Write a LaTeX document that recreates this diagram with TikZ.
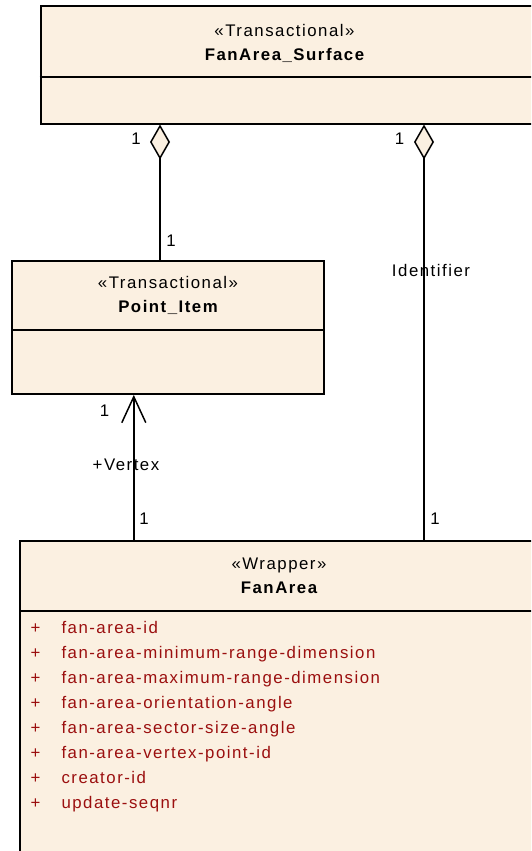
\documentclass[tikz,border=0pt]{standalone}
\usepackage{fontspec}
\setmainfont{Liberation Sans}[LetterSpace=9, Ligatures=CommonOff]
\usetikzlibrary{arrows.meta}
\definecolor{clsfill}{RGB}{251,240,225}
\definecolor{attrred}{RGB}{155,15,15}

\begin{document}
\begin{tikzpicture}[x=1pt, y=-1pt,
  classbox/.style={draw, fill=clsfill, line width=1.8pt, inner sep=0pt},
  divider/.style={line width=1.8pt},
  stereo/.style={anchor=base, inner sep=0pt, font=\fontsize{16.8}{20}\selectfont},
  cname/.style={anchor=base, inner sep=0pt, font=\fontsize{16.8}{20}\selectfont\bfseries},
  mult/.style={inner sep=0pt, font=\fontsize{16.8}{20}\selectfont},
  attr/.style={anchor=base west, inner sep=0pt, text=attrred, font=\fontsize{16.8}{20}\selectfont},
  assoc/.style={line width=1.5pt},
  aggr/.style={assoc, {Diamond[length=35pt, width=20pt, fill=clsfill]}-},
  nav/.style={assoc, -{Straight Barb[length=26pt, width=24pt]}}]
\useasboundingbox (0,0) rectangle (531,851);
\clip (0,0) rectangle (531,851);

% classes
\node[classbox, minimum width=495.4pt, minimum height=117.6pt] (surface) at (288.3,64.8) {};
\node[classbox, minimum width=312pt, minimum height=133pt] (point) at (168,327.5) {};
\node[classbox, minimum width=516pt, minimum height=329pt] (fanarea) at (278,705.5) {};

\draw[divider] (surface.west |- 0,77) -- (surface.east |- 0,77);
\draw[divider] (point.west |- 0,330) -- (point.east |- 0,330);
\draw[divider] (fanarea.west |- 0,610.6) -- (fanarea.east |- 0,610.6);

\node[stereo] (surfaceS) at (284.5,37) {«Transactional»};
\node[cname] (surfaceN) at (284.5,61) {FanArea\_Surface};
\node[stereo] (pointS) at (168,288) {«Transactional»};
\node[cname] (pointN) at (168,312) {Point\_Item};
\node[stereo] (fanareaS) at (279,569) {«Wrapper»};
\node[cname] (fanareaN) at (279,593.5) {FanArea};

\foreach \attrname [count=\i from 0] in {fan-area-id, fan-area-minimum-range-dimension,
    fan-area-maximum-range-dimension, fan-area-orientation-angle, fan-area-sector-size-angle,
    fan-area-vertex-point-id, creator-id, update-seqnr} {
  \node[attr] (plus\i) at (30.5,633.5+25*\i) {+};
  \node[attr] (attr\i) at (61.3,633.5+25*\i) {\attrname};
}

% connectors
\coordinate (aggL) at (160,0);
\coordinate (aggR) at (424,0);
\coordinate (navV) at (133.8,0);
\draw[aggr] (surface.south -| aggL) -- (point.north -| aggL);
\draw[aggr] (surface.south -| aggR) -- (fanarea.north -| aggR);
\draw[nav] (fanarea.north -| navV) -- (point.south -| navV);

\node[mult] (multL1) at (136,138.5) {1};
\node[mult] (multL2) at (171,241) {1};
\node[mult] (multR1) at (399.5,138.5) {1};
\node[mult] (multR2) at (435,519) {1};
\node[mult] (multV1) at (104.5,411) {1};
\node[mult] (multV2) at (144,519) {1};
\node[mult] (roleR) at (431,270) {Identifier};
\node[mult] (roleV) at (126,465) {+Vertex};
\end{tikzpicture}
\end{document}
